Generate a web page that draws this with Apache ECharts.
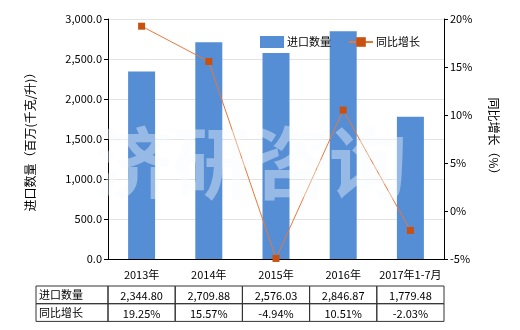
<!DOCTYPE html>
<html><head><meta charset="utf-8">
<script src="https://cdn.jsdelivr.net/npm/echarts@6/dist/echarts.min.js"></script>
<style>html,body{margin:0;padding:0;background:#fff}#c{width:520px;height:330px}</style>
</head><body><div id="c"></div>
<script>
var categories = ['2013年','2014年','2015年','2016年','2017年1-7月'];
var importQty = [2344.80, 2709.88, 2576.03, 2846.87, 1779.48];
var yoyGrowth = [19.25, 15.57, -4.94, 10.51, -2.03];
var seriesNames = ['进口数量','同比增长'];
var leftAxisName = '进口数量（百万(千克/升)）';
var rightAxisName = '同比增长（%）';
var watermark = '济研咨询';

var FONT = '"Noto Sans CJK SC", sans-serif';
var FS = 11;
var chart = echarts.init(document.getElementById('c'));
function fmtNum(v, d){ return v.toFixed(d).replace(/\B(?=(\d{3})+(?!\d))/g, ','); }

var gl = 108, gr = 444, tTop = 286, rowH = 17.7, firstX = 36;
var colW = (gr - gl) / categories.length;
var g = [];
// watermark
g.push({type:'text', left: 95, top: 124, z: 100, silent:true,
  style:{text: watermark, font: 'bold 78px ' + FONT, fill:'rgba(248,250,253,0.4)', letterSpacing: 3}});
// table
var rows = [[seriesNames[0], importQty.map(function(v){return fmtNum(v,2);})],
            [seriesNames[1], yoyGrowth.map(function(v){return v.toFixed(2)+'%';})]];
rows.forEach(function(r, ri){
  var y = tTop + ri*rowH;
  g.push({type:'rect', shape:{x:firstX, y:y, width:gl-firstX, height:rowH}, style:{fill:'none', stroke:'#333', lineWidth:1}});
  g.push({type:'text', style:{text:r[0], x:firstX+3, y:y+rowH/2, textVerticalAlign:'middle', font:FS+'px '+FONT, fill:'#000'}});
  r[1].forEach(function(t, ci){
    var x = gl + ci*colW;
    g.push({type:'rect', shape:{x:x, y:y, width:colW, height:rowH}, style:{fill:'none', stroke:'#333', lineWidth:1}});
    g.push({type:'text', style:{text:t, x:x+colW/2, y:y+rowH/2+1, textAlign:'center', textVerticalAlign:'middle', font:FS+'px '+FONT, fill:'#000'}});
  });
});

chart.setOption({
  animation:false,
  textStyle:{fontFamily:FONT},
  grid:{left:gl, right:520-gr, top:19, bottom:71},
  legend:{left:255, top:31, itemGap:17, itemWidth:24, itemHeight:12,
    textStyle:{fontSize:FS, color:'#000', fontFamily:FONT, padding:[0,0,0,-2]},
    data:[{name:seriesNames[0], icon:'rect'}, {name:seriesNames[1]}]},
  xAxis:{type:'category', data:categories,
    axisLine:{lineStyle:{color:'#000'}},
    axisTick:{alignWithLabel:true, length:5, lineStyle:{color:'#000'}},
    axisLabel:{color:'#000', fontSize:FS, margin:10, interval:0}},
  yAxis:[{type:'value', min:0, max:3000, interval:500, name:leftAxisName,
    nameLocation:'middle', nameGap:72, nameRotate:90,
    nameTextStyle:{fontSize:12, color:'#000'},
    axisLine:{show:true, lineStyle:{color:'#000'}},
    axisTick:{show:true, length:4, lineStyle:{color:'#000'}},
    axisLabel:{color:'#000', fontSize:FS, margin:6, formatter:function(v){return fmtNum(v,1);}},
    splitLine:{lineStyle:{color:'#e3e3e3'}}},
   {type:'value', min:-5, max:20, interval:5, name:rightAxisName,
    nameLocation:'middle', nameGap:44, nameRotate:-90,
    nameTextStyle:{fontSize:12, color:'#000'},
    axisLine:{show:true, lineStyle:{color:'#000'}},
    axisTick:{show:true, length:4, lineStyle:{color:'#000'}},
    axisLabel:{color:'#000', fontSize:FS, margin:6, formatter:'{value}%'},
    splitLine:{show:false}}],
  series:[{name:seriesNames[0], type:'bar', data:importQty, barWidth:27,
     itemStyle:{color:'#558ED5'}},
    {name:seriesNames[1], type:'line', yAxisIndex:1, data:yoyGrowth,
     symbol:'rect', symbolSize:7,
     lineStyle:{color:'#E8783A', width:1},
     itemStyle:{color:'#C9500F'}}],
  graphic:g
});
</script></body></html>
